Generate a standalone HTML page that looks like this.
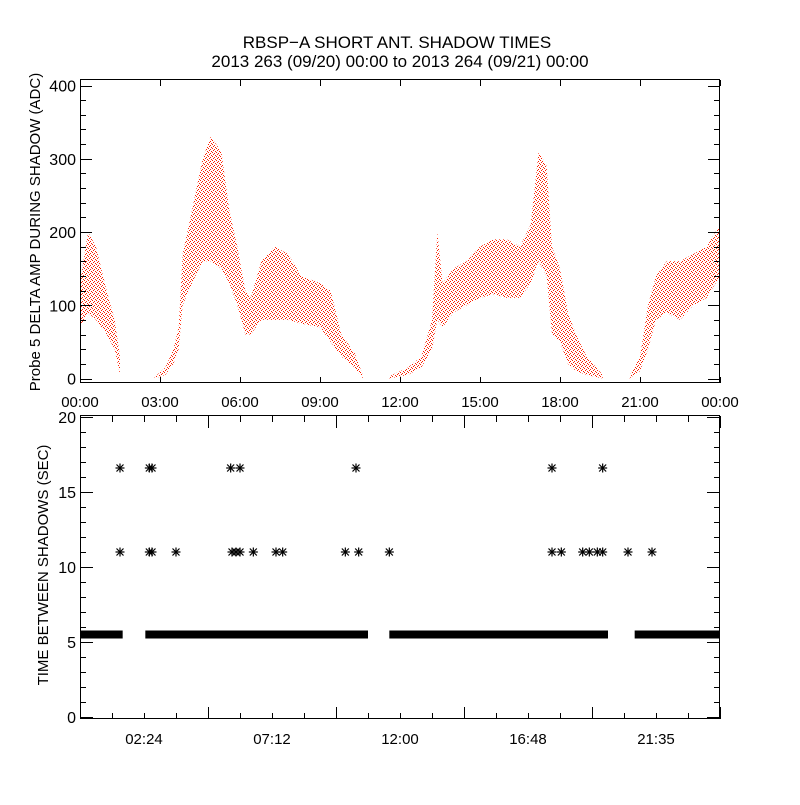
<!DOCTYPE html>
<html><head><meta charset="utf-8"><style>
body{margin:0;background:#fff}
svg text{font-family:"Liberation Sans",sans-serif;fill:#000}
</style></head><body>
<svg id="c" width="800" height="800" viewBox="0 0 800 800" xmlns="http://www.w3.org/2000/svg">
<defs>
<pattern id="dots" width="4" height="4" patternUnits="userSpaceOnUse" shape-rendering="crispEdges">
<rect x="0" y="0" width="1" height="1" fill="#ff2000"/>
<rect x="2" y="1" width="1" height="1" fill="#ff2000"/>
<rect x="1" y="2" width="1" height="1" fill="#ff2000"/>
<rect x="3" y="3" width="1" height="1" fill="#ff2000"/>
</pattern>
</defs>
<text x="397" y="48" font-size="17" text-anchor="middle">RBSP−A SHORT ANT. SHADOW TIMES</text>
<text x="400" y="67" font-size="17" text-anchor="middle">2013 263 (09/20) 00:00 to 2013 264 (09/21) 00:00</text>
<g id="topPanel"></g>
<g id="botPanel"></g>
<text transform="translate(40,232) rotate(-90)" font-size="15" text-anchor="middle">Probe 5 DELTA AMP DURING SHADOW (ADC)</text>
<text transform="translate(48,565) rotate(-90)" font-size="15" text-anchor="middle">TIME BETWEEN SHADOWS (SEC)</text>
</svg>
<script>
// ---- top panel data: envelope bands (hour, low, high) per shadow pass
const pass1Hours=[0,0.3,0.6,1.0,1.3,1.5];
const pass1Low=[70,90,80,60,40,5];
const pass1High=[130,200,180,120,80,30];
const pass2Hours=[2.8,3.2,3.5,3.7,3.85,4.2,4.6,4.9,5.3,5.6,5.9,6.2,6.4,6.8,7.3,7.8,8.3,9.0,9.4,9.8,10.3,10.6];
const pass2Low=[0,5,20,40,100,130,160,160,150,130,100,60,60,80,80,80,75,70,50,30,15,0];
const pass2High=[2,15,40,70,170,230,300,330,310,230,180,120,110,160,180,170,140,130,120,60,35,5];
const pass3Hours=[11.6,12.3,12.8,13.2,13.4,13.6,14.0,14.5,15.0,15.5,16.0,16.5,16.9,17.2,17.5,17.7,18.0,18.3,18.6,19.0,19.6];
const pass3Low=[0,5,15,40,80,70,90,100,110,115,110,110,130,160,140,60,50,20,10,5,0];
const pass3High=[3,15,30,80,200,130,150,160,180,190,190,180,210,310,290,180,150,90,60,30,5];
const pass4Hours=[20.6,21.0,21.3,21.6,22.0,22.5,23.0,23.5,24];
const pass4Low=[0,10,40,80,90,80,100,110,140];
const pass4High=[3,30,100,140,160,160,170,180,210];
const topYTicks=[0,100,200,300,400];
const topXTickHours=[0,3,6,9,12,15,18,21,24];
const topXTickLabels=["00:00","03:00","06:00","09:00","12:00","15:00","18:00","21:00","00:00"];
// ---- bottom panel data
const baselineValue=5.5;
const baselineStart=[0,2.45,11.6,20.8];
const baselineEnd=[1.6,10.8,19.8,24];
const sparseHours=[1.5,2.6,2.7,5.65,6.0,10.35,17.7,19.6,
 1.5,2.6,2.7,3.6,5.7,5.85,6.0,6.5,7.35,7.6,9.95,10.45,11.6,17.7,18.05,18.85,19.1,19.4,19.6,20.55,21.45];
const sparseValues=[16.6,16.6,16.6,16.6,16.6,16.6,16.6,16.6,
 11,11,11,11,11,11,11,11,11,11,11,11,11,11,11,11,11,11,11,11,11];
const botYTicks=[0,5,10,15,20];
const botXTickHours=[2.4,7.2,12,16.8,21.6];
const botXTickLabels=["02:24","07:12","12:00","16:48","21:35"];

const NS="http://www.w3.org/2000/svg";
function mk(parent,tag,attrs){const e=document.createElementNS(NS,tag);for(const k in attrs)e.setAttribute(k,attrs[k]);parent.appendChild(e);return e;}
const X0=80,X1=720;
const xs=h=>X0+h/24*(X1-X0);
const ty=v=>378.5-v*(378.5-85.5)/400;
const by=v=>717-v*(717-417)/20;
const topG=document.getElementById('topPanel'),botG=document.getElementById('botPanel');

[[pass1Hours,pass1Low,pass1High],[pass2Hours,pass2Low,pass2High],[pass3Hours,pass3Low,pass3High],[pass4Hours,pass4Low,pass4High]].forEach((p,i)=>{
  const [h,lo,hi]=p;let pts=[];
  for(let j=0;j<h.length;j++)pts.push(xs(h[j])+','+ty(hi[j]));
  for(let j=h.length-1;j>=0;j--)pts.push(xs(h[j])+','+ty(lo[j]));
  const poly=mk(topG,'polygon',{points:pts.join(' '),fill:'url(#dots)'});
  
  
});
const tb=mk(topG,'rect',{x:80.5,y:79.5,width:639,height:303,fill:'none',stroke:'#000','stroke-width':1});


for(let v=0;v<=400;v+=20){const y=Math.round(ty(v))+0.5;const L=v%100===0?12:6;
  mk(topG,'line',{x1:80,x2:80+L,y1:y,y2:y,stroke:'#000'});mk(topG,'line',{x1:720-L,x2:720,y1:y,y2:y,stroke:'#000'});}
topYTicks.forEach(v=>{const t=mk(topG,'text',{x:76,y:ty(v)+6,'font-size':16,'text-anchor':'end'});t.textContent=v;
  
  });
topXTickHours.forEach((h,i)=>{const x=Math.round(xs(h))+0.5;
  mk(topG,'line',{x1:x,x2:x,y1:80,y2:86,stroke:'#000'});mk(topG,'line',{x1:x,x2:x,y1:377,y2:383,stroke:'#000'});
  const t=mk(topG,'text',{x:xs(h),y:407,'font-size':15,'text-anchor':'middle'});t.textContent=topXTickLabels[i];
  
  });

baselineStart.forEach((s,i)=>{const r=mk(botG,'rect',{x:xs(s),y:by(baselineValue)-4,width:xs(baselineEnd[i])-xs(s),height:8,fill:'#000'});
  
  });
function star(cx,cy){const g=mk(botG,'g',{stroke:'#000','stroke-width':1.2});
  mk(g,'line',{x1:cx-4.5,x2:cx+4.5,y1:cy,y2:cy});mk(g,'line',{x1:cx,x2:cx,y1:cy-4.5,y2:cy+4.5});
  mk(g,'line',{x1:cx-3.5,x2:cx+3.5,y1:cy-3.5,y2:cy+3.5});mk(g,'line',{x1:cx-3.5,x2:cx+3.5,y1:cy+3.5,y2:cy-3.5});return g;}
sparseHours.forEach((h,i)=>{const g=star(xs(h),by(sparseValues[i]));
  
  });
const bb=mk(botG,'rect',{x:80.5,y:415.5,width:639,height:303,fill:'none',stroke:'#000','stroke-width':1});


for(let v=0;v<=20;v+=1){const y=Math.round(by(v))+0.5;const L=v%5===0?13:6;
  mk(botG,'line',{x1:80,x2:80+L,y1:y,y2:y,stroke:'#000'});mk(botG,'line',{x1:720-L,x2:720,y1:y,y2:y,stroke:'#000'});}
botYTicks.forEach(v=>{const t=mk(botG,'text',{x:76,y:by(v)+6,'font-size':16,'text-anchor':'end'});t.textContent=v;
  
  });
for(let h=1.2;h<24;h+=1.2){const x=Math.round(xs(h))+0.5;const major=Math.abs((h/4.8)-Math.round(h/4.8))<0.01;const l2=major?12:6;
  mk(botG,'line',{x1:x,x2:x,y1:416,y2:416+l2,stroke:'#000'});mk(botG,'line',{x1:x,x2:x,y1:719-l2,y2:719,stroke:'#000'});}
botXTickHours.forEach((h,i)=>{const t=mk(botG,'text',{x:xs(h),y:744,'font-size':15,'text-anchor':'middle'});t.textContent=botXTickLabels[i];
  
  });
</script>
</body></html>
